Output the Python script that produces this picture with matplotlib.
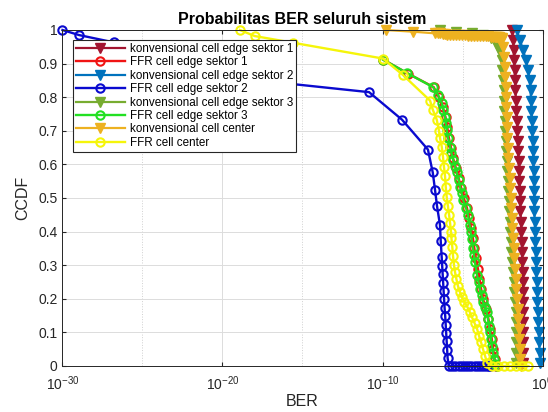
import numpy as np
import matplotlib
matplotlib.use("Agg")
import matplotlib.pyplot as plt
from matplotlib import ticker

plt.rcParams['font.family'] = ['Liberation Sans', 'DejaVu Sans']
plt.rcParams['mathtext.fontset'] = 'custom'
plt.rcParams['mathtext.rm'] = 'Liberation Sans'
plt.rcParams['mathtext.it'] = 'Liberation Sans:italic'
plt.rcParams['mathtext.bf'] = 'Liberation Sans:bold'

# konvensional cell edge sektor 1
k1_ccdf = [1.00, 0.97, 0.94, 0.91, 0.88, 0.85, 0.82, 0.79, 0.76, 0.73, 0.70, 0.67,
           0.64, 0.61, 0.58, 0.55, 0.52, 0.49, 0.46, 0.43, 0.40, 0.37, 0.34, 0.31,
           0.28, 0.25, 0.22, 0.19, 0.16, 0.13, 0.10, 0.07, 0.04, 0.01]
k1_exp = [-1.91, -1.84, -1.81, -1.78, -1.75, -1.72, -1.69, -1.66, -1.63, -1.59, -1.59, -1.56,
          -1.53, -1.50, -1.47, -1.44, -1.41, -1.41, -1.38, -1.34, -1.34, -1.31, -1.28, -1.28,
          -1.25, -1.22, -1.22, -1.22, -1.21, -1.21, -1.20, -1.20, -1.19, -1.19]

# FFR cell edge sektor 1
f1_ccdf = [0.912, 0.87, 0.83, 0.80, 0.77, 0.74, 0.71, 0.68, 0.65, 0.62, 0.59, 0.56,
           0.53, 0.50, 0.47, 0.44, 0.41, 0.38, 0.35, 0.32, 0.29, 0.26, 0.23, 0.20,
           0.17, 0.14, 0.11, 0.08, 0.05, 0.02, 0.0]
f1_exp = [-9.95, -8.40, -6.80, -6.48, -6.23, -6.06, -5.95, -5.86, -5.72, -5.60, -5.42, -5.25,
          -5.08, -4.92, -4.72, -4.58, -4.46, -4.35, -4.26, -4.16, -4.04, -3.94, -3.84, -3.72,
          -3.55, -3.38, -3.27, -3.17, -3.08, -2.99, -2.88]

# konvensional cell edge sektor 2
k2_ccdf = k1_ccdf
k2_exp = [-1.61, -1.41, -1.22, -1.03, -0.91, -0.81, -0.75, -0.72, -0.69, -0.66, -0.64, -0.62,
          -0.59, -0.57, -0.56, -0.54, -0.53, -0.52, -0.51, -0.49, -0.47, -0.45, -0.43, -0.41,
          -0.39, -0.36, -0.34, -0.32, -0.29, -0.26, -0.24, -0.21, -0.18, -0.16]

# FFR cell edge sektor 2
f2_ccdf = [1.0, 0.985, 0.963, 0.862, 0.815, 0.733, 0.644, 0.576, 0.525, 0.475, 0.42, 0.371,
           0.323, 0.298, 0.273, 0.248, 0.223, 0.198, 0.173, 0.148, 0.123, 0.098, 0.073, 0.048,
           0.023, 0.0, 0.0, 0.0, 0.0, 0.0, 0.0, 0.0, 0.0, 0.0, 0.0, 0.0, 0.0, 0.0, 0.0, 0.0]
f2_exp = [-30.0, -28.97, -26.78, -20.16, -10.84, -8.78, -7.16, -6.86, -6.72, -6.59, -6.41, -6.36,
          -6.30, -6.27, -6.24, -6.21, -6.18, -6.15, -6.12, -6.08, -6.05, -6.02, -5.99, -5.96,
          -5.93, -5.85, -5.65, -5.45, -5.25, -5.05, -4.85, -4.65, -4.45, -4.25, -4.05, -3.85,
          -3.65, -3.45, -3.35, -3.28]

# konvensional cell edge sektor 3
k3_ccdf = [1.0, 0.995, 0.99, 0.985, 0.975, 0.965, 0.95, 0.935, 0.91, 0.88, 0.85, 0.82,
           0.79, 0.76, 0.73, 0.70, 0.67, 0.64, 0.61, 0.58, 0.55, 0.52, 0.49, 0.46,
           0.43, 0.40, 0.37, 0.34, 0.31, 0.28, 0.25, 0.22, 0.19, 0.16, 0.13, 0.10,
           0.07, 0.04, 0.01]
k3_exp = [-6.4, -5.4, -4.4, -3.7, -3.25, -2.95, -2.76, -2.64, -2.56, -2.51, -2.46, -2.43,
          -2.40, -2.38, -2.36, -2.33, -2.30, -2.27, -2.24, -2.21, -2.18, -2.15, -2.12, -2.09,
          -2.06, -2.03, -2.00, -1.96, -1.92, -1.86, -1.81, -1.76, -1.71, -1.68, -1.66, -1.65,
          -1.64, -1.64, -1.63]

# FFR cell edge sektor 3
f3_ccdf = [0.912, 0.872, 0.83, 0.807, 0.783, 0.762, 0.742, 0.722, 0.703, 0.68, 0.653, 0.634,
           0.614, 0.595, 0.576, 0.555, 0.534, 0.515, 0.495, 0.47, 0.45, 0.42, 0.40, 0.377,
           0.35, 0.33, 0.308, 0.27, 0.25, 0.228, 0.21, 0.19, 0.175, 0.16, 0.14, 0.12,
           0.10, 0.08, 0.06, 0.04, 0.02, 0.005, 0.0]
f3_exp = [-9.97, -8.47, -6.84, -6.53, -6.30, -6.19, -6.09, -6.03, -5.99, -5.91, -5.78, -5.69,
          -5.59, -5.47, -5.36, -5.25, -5.16, -5.06, -4.97, -4.78, -4.66, -4.56, -4.50, -4.43,
          -4.34, -4.28, -4.22, -4.09, -4.00, -3.91, -3.81, -3.72, -3.59, -3.49, -3.41, -3.34,
          -3.28, -3.22, -3.16, -3.09, -3.03, -2.97, -2.84]

# konvensional cell center
kc_ccdf = [1.0, 0.995, 0.99, 0.99, 0.99, 0.988, 0.988, 0.986, 0.985, 0.985, 0.984, 0.985,
           0.985, 0.984, 0.983, 0.983, 0.982, 0.983, 0.982, 0.982, 0.981, 0.981, 0.98, 0.98,
           0.98, 0.979, 0.979, 0.978, 0.978, 0.977, 0.976, 0.975, 0.972,
           0.95, 0.92, 0.89, 0.86, 0.83, 0.80, 0.77, 0.74,
           0.71, 0.68, 0.65, 0.62, 0.59, 0.56, 0.53, 0.50, 0.47, 0.44, 0.41, 0.38,
           0.35, 0.32, 0.29, 0.26, 0.23, 0.20, 0.17, 0.14, 0.11, 0.08, 0.05, 0.02, 0.0]
kc_exp = [-9.8, -8.1, -6.72, -6.55, -6.4, -6.25, -6.1, -5.95, -5.8, -5.6, -5.4, -5.22,
          -5.05, -4.86, -4.68, -4.5, -4.3, -4.1, -3.9, -3.72, -3.55, -3.4, -3.25, -3.12,
          -3.0, -2.9, -2.82, -2.76, -2.7, -2.65, -2.6, -2.56, -2.52,
          -2.46, -2.41, -2.36, -2.34, -2.31, -2.28, -2.26, -2.24,
          -2.22, -2.19, -2.16, -2.13, -2.10, -2.06, -2.03, -1.99, -1.96, -1.92, -1.88, -1.85,
          -1.81, -1.76, -1.72, -1.68, -1.64, -1.60, -1.56, -1.52, -1.48, -1.44, -1.41, -1.39, -1.36]

# FFR cell center
fc_ccdf = [1.0, 0.982, 0.962, 0.915, 0.866, 0.79, 0.763, 0.733, 0.70, 0.68, 0.653, 0.623,
           0.593, 0.564, 0.534, 0.504, 0.475, 0.45, 0.427, 0.40, 0.38, 0.355, 0.326, 0.30,
           0.28, 0.258, 0.237, 0.22, 0.205, 0.19, 0.178, 0.162, 0.145, 0.128, 0.11, 0.09,
           0.07, 0.05, 0.03, 0.01, 0.0, 0.0, 0.0, 0.0, 0.0, 0.0, 0.0]
fc_exp = [-18.91, -17.99, -15.59, -9.97, -8.72, -7.03, -6.86, -6.61, -6.47, -6.41, -6.30, -6.22,
          -6.16, -6.09, -6.05, -5.99, -5.91, -5.84, -5.78, -5.72, -5.69, -5.64, -5.59, -5.53,
          -5.47, -5.38, -5.28, -5.16, -5.03, -4.88, -4.72, -4.56, -4.41, -4.25, -4.09, -3.97,
          -3.84, -3.72, -3.59, -3.47, -3.16, -2.78, -2.41, -2.03, -1.66, -1.28, -0.88]

series = [
    ("konvensional cell edge sektor 1", k1_exp, k1_ccdf, "#A2142F", "v"),
    ("FFR cell edge sektor 1", f1_exp, f1_ccdf, "#F01414", "o"),
    ("konvensional cell edge sektor 2", k2_exp, k2_ccdf, "#0072BD", "v"),
    ("FFR cell edge sektor 2", f2_exp, f2_ccdf, "#0A0ACF", "o"),
    ("konvensional cell edge sektor 3", k3_exp, k3_ccdf, "#77AC30", "v"),
    ("FFR cell edge sektor 3", f3_exp, f3_ccdf, "#22E022", "o"),
    ("konvensional cell center", kc_exp, kc_ccdf, "#EDB120", "v"),
    ("FFR cell center", fc_exp, fc_ccdf, "#F5F50A", "o"),
]

fig = plt.figure(figsize=(5.48, 4.12), dpi=100)
ax = fig.add_axes([0.114, 0.1117, 0.876, 0.8155])

for name, ex, cc, col, mk in series:
    ber = 10.0 ** np.array(ex)
    if mk == "v":
        ax.plot(ber, cc, color=col, lw=1.6, marker="v", ms=6.5, mfc=col, mec=col,
                label=name, clip_on=False)
    else:
        ax.plot(ber, cc, color=col, lw=1.7, marker="o", ms=6, mfc="none", mec=col,
                mew=1.5, label=name, clip_on=False)

ax.set_xscale("log")
ax.set_xlim(1e-30, 1)
ax.set_ylim(0, 1)
ax.set_xticks([1e-30, 1e-20, 1e-10, 1])
ax.set_xticks([1e-25, 1e-15, 1e-5], minor=True)
ax.xaxis.set_minor_formatter(ticker.NullFormatter())
yt = [0, 0.1, 0.2, 0.3, 0.4, 0.5, 0.6, 0.7, 0.8, 0.9, 1]
ax.set_yticks(yt)
ax.set_yticklabels(["0", "0.1", "0.2", "0.3", "0.4", "0.5", "0.6", "0.7", "0.8", "0.9", "1"])

ax.grid(True, which="major", color="#dcdcdc", lw=0.7, ls="-")
ax.grid(True, which="minor", axis="x", color="#d0d0d0", lw=0.7, ls=":")
ax.set_axisbelow(True)

for sp in ax.spines.values():
    sp.set_color("#262626")
    sp.set_linewidth(0.7)
ax.tick_params(which="both", direction="in", top=True, right=True, colors="#262626",
               labelsize=10)
ax.tick_params(which="major", length=3)
ax.tick_params(which="minor", length=0)
ax.tick_params(axis="x", pad=6)

ax.set_title("Probabilitas BER seluruh sistem", fontweight="bold", fontsize=11.5, pad=4)
ax.set_xlabel("BER", fontsize=11.5, color="#262626", labelpad=1)
ax.set_ylabel("CCDF", fontsize=11.5, color="#262626", labelpad=6)

leg = ax.legend(loc="upper left", bbox_to_anchor=(0.022, 0.970), fontsize=8.4,
                frameon=True, fancybox=False, edgecolor="#262626", framealpha=1,
                borderpad=0.25, labelspacing=0.12, handlelength=4.2, handletextpad=0.4,
                borderaxespad=0, markerscale=1.0, numpoints=1)
leg.get_frame().set_linewidth(0.8)

fig.savefig("out.png", dpi=100)
